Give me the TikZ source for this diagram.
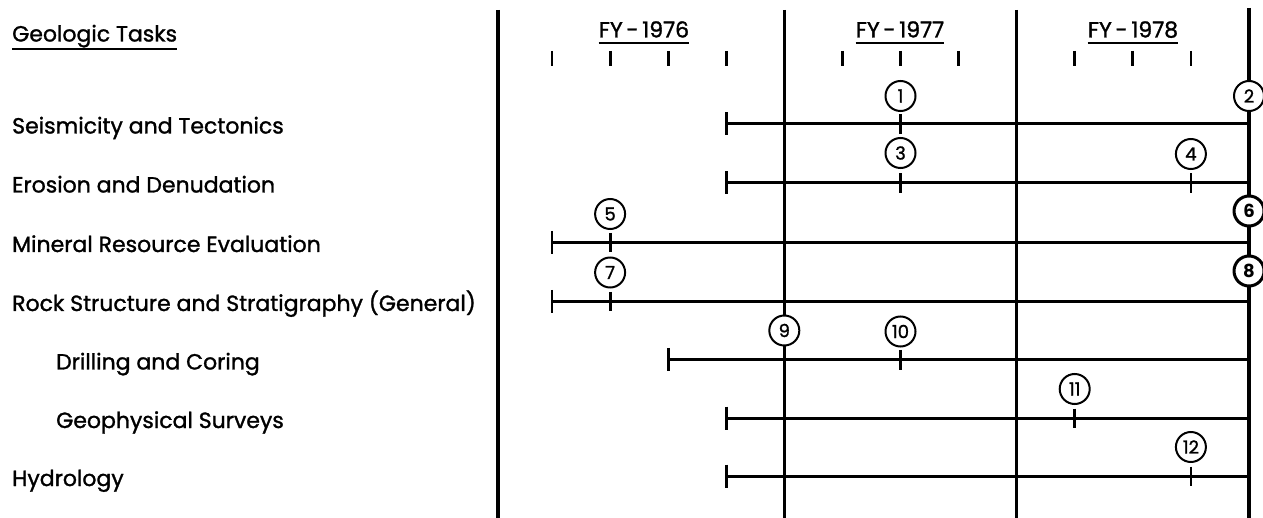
\documentclass[tikz,border=0pt]{standalone}
\usepackage{fontspec}
\setmainfont{Poppins}[UprightFeatures={FakeBold=1.3}]
\begin{document}
\begin{tikzpicture}[x=1pt,y=-1pt,
  gridline/.style={line width=3.2pt},
  bar/.style={line width=3pt},
  tickmark/.style={line width=2.8pt},
  ms/.style={circle,draw,line width=2pt,fill=white,inner sep=0pt,minimum size=30pt,font=\fontsize{18}{18}\selectfont},
  msb/.style={ms,line width=3pt,font=\fontsize{18}{18}\selectfont\bfseries},
  task/.style={anchor=base west,inner sep=0pt,font=\fontsize{22}{22}\selectfont},
  fy/.style={anchor=base,inner sep=0pt,font=\fontsize{22}{22}\selectfont},
  uline/.style={line width=2pt}]
\useasboundingbox (0,0) rectangle (1263,518);

% vertical grid lines
\coordinate (v0t) at (498,10);   \coordinate (v0b) at (498,518);
\coordinate (v1t) at (784.3,10); \coordinate (v1b) at (784.3,518);
\coordinate (v2t) at (1016.6,10);\coordinate (v2b) at (1016.6,518);
\coordinate (v3t) at (1249,8);   \coordinate (v3b) at (1249,518);
\draw[gridline] (v0t) -- (v0b);
\draw[gridline] (v1t) -- (v1b);
\draw[gridline] (v2t) -- (v2b);
\draw[gridline] (v3t) -- (v3b);

% header
\node[task] (hdr) at (12,41.5) {Geologic Tasks};
\draw[uline] ([yshift=-8pt]hdr.base west) -- ([yshift=-8pt]hdr.base east);
\node[fy] (fy76) at (644,37.5) {FY\,-\,1976};
\node[fy] (fy77) at (900,37.5) {FY\,-\,1977};
\node[fy] (fy78) at (1133,37.5) {FY\,-\,1978};
\foreach \f in {fy76,fy77,fy78}
  \draw[uline] ([yshift=-5.5pt]\f.base west) -- ([yshift=-5.5pt]\f.base east);

% quarter ticks
\foreach \x in {552,610.1,668.2,726.2,842.4,900.5,958.6,1074.7,1132.8,1190.9}
  \draw[tickmark] (\x,51) -- (\x,66);

% task labels
\node[task] (t1) at (12,133.5) {Seismicity and Tectonics};
\node[task] (t2) at (12,192.5) {Erosion and Denudation};
\node[task] (t3) at (12,252) {Mineral Resource Evaluation};
\node[task] (t4) at (12,311) {Rock Structure and Stratigraphy (General)};
\node[task] (t5) at (56,369.5) {Drilling and Coring};
\node[task] (t6) at (56,428) {Geophysical Surveys};
\node[task] (t7) at (12,486) {Hydrology};

% bars: start coordinates and end at right line
\coordinate (s1) at (726.2,124);  \coordinate (e1) at (1249,124);
\coordinate (s2) at (726.2,183);  \coordinate (e2) at (1249,183);
\coordinate (s3) at (552,242.5);  \coordinate (e3) at (1249,242.5);
\coordinate (s4) at (552,301.5);  \coordinate (e4) at (1249,301.5);
\coordinate (s5) at (668.2,359.5);\coordinate (e5) at (1249,359.5);
\coordinate (s6) at (726.2,418);  \coordinate (e6) at (1249,418);
\coordinate (s7) at (726.2,476);  \coordinate (e7) at (1249,476);
\foreach \i in {1,...,7}{
  \draw[bar] (s\i) -- (e\i);
  \draw[tickmark] ([yshift=11.5pt]s\i) -- ([yshift=-11.5pt]s\i);
}

% milestone ticks
\foreach \x/\y in {900.5/124, 900.5/183, 1190.9/183, 610.1/242.5, 610.1/301.5, 900.5/359.5, 1074.7/418, 1190.9/476}
  \draw[tickmark] (\x,\y-9.5) -- (\x,\y+10);

% milestones
\node[ms] (m1) at (900.5,96) {1};
\node[ms] (m2) at (1249,96) {2};
\node[ms] (m3) at (900.5,153) {3};
\node[ms] (m4) at (1190.9,154) {4};
\node[ms] (m5) at (610.1,214) {5};
\node[msb] (m6) at (1249,211) {6};
\node[ms] (m7) at (610.1,272.5) {7};
\node[msb] (m8) at (1249,271) {8};
\node[ms] (m9) at (784.3,330.5) {9};
\node[ms] (m10) at (900.5,331.5) {10};
\node[ms] (m11) at (1074.7,389) {11};
\node[ms] (m12) at (1190.9,447) {12};
\end{tikzpicture}
\end{document}
